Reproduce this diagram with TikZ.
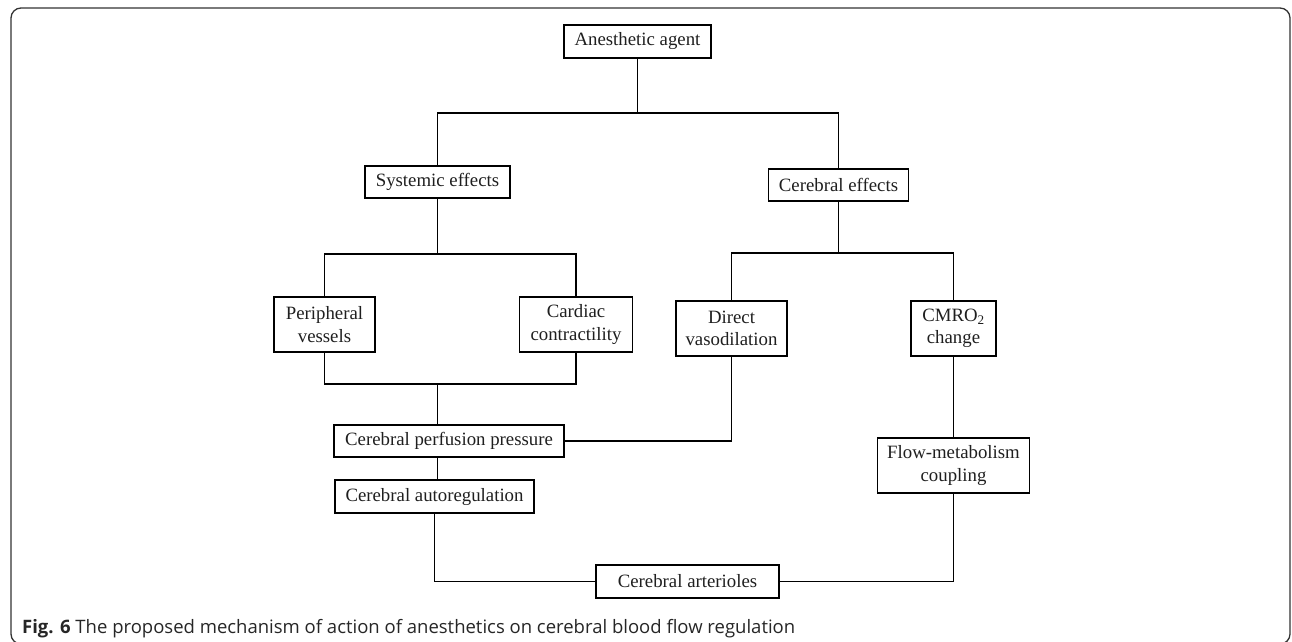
\documentclass[tikz,border=0pt]{standalone}
\usepackage{fontspec}
\setmainfont{Liberation Serif}
\newfontfamily\capfont{Open Sans}
\begin{document}
\begin{tikzpicture}[x=1pt,y=-1pt,
  box/.style={draw=black, line width=1.5pt, inner sep=0pt, align=center,
    font=\fontsize{18.8}{22.5}\selectfont, text=black!88},
  conn/.style={draw=black, line width=1.6pt},
  frame/.style={draw=black!80, line width=1.3pt, rounded corners=10pt}]
\useasboundingbox (0,0) rectangle (1292,641);
\draw[frame] (11,8) rectangle (1290,644);

\node[box, minimum width=147pt, minimum height=33pt] (agent) at (637.5,41.5) {Anesthetic agent};
\node[box, minimum width=145pt, minimum height=32pt] (sys) at (437.5,182) {Systemic effects};
\node[box, minimum width=140pt, minimum height=32pt] (cer) at (838.5,185) {Cerebral effects};
\node[box, minimum width=101pt, minimum height=55pt] (perV) at (324.5,324.5) {Peripheral\\vessels};
\node[box, minimum width=113pt, minimum height=55pt] (card) at (576,324.5) {Cardiac\\contractility};
\node[box, minimum width=111pt, minimum height=55pt] (direct) at (731.5,328.5) {Direct\\vasodilation};
\node[box, minimum width=85pt, minimum height=55pt] (cmro) at (953.5,328.5) {CMRO\textsubscript{2}\\change};
\node[box, minimum width=230pt, minimum height=32pt] (perf) at (449,441) {Cerebral perfusion pressure};
\node[box, minimum width=199pt, minimum height=33pt] (auto) at (434.5,496.5) {Cerebral autoregulation};
\node[box, minimum width=152pt, minimum height=55pt] (flow) at (953.5,465.5) {Flow-metabolism\\coupling};
\node[box, minimum width=183pt, minimum height=33pt] (arter) at (687.5,581.5) {Cerebral arterioles};

\coordinate (j1) at (637.5,113);
\coordinate (j2) at (437.5,254);
\coordinate (j3) at (437.5,384);
\coordinate (j4) at (838.5,253);

\draw[conn] (agent.south) -- (j1);
\draw[conn] (sys.north) |- (j1) -| (cer.north);
\draw[conn] (sys.south) -- (j2);
\draw[conn] (perV.north) |- (j2) -| (card.north);
\draw[conn] (perV.south) |- (j3) -| (card.south);
\draw[conn] (j3) -- (j3 |- perf.north);
\draw[conn] (cer.south) -- (j4);
\draw[conn] (direct.north) |- (j4) -| (cmro.north);
\draw[conn] (direct.south) |- (perf.east);
\draw[conn] (j3 |- perf.south) -- (j3 |- auto.north);
\draw[conn] (auto.south) |- (arter.west);
\draw[conn] (cmro.south) -- (flow.north);
\draw[conn] (flow.south) |- (arter.east);

\node[anchor=base west, inner sep=0pt, text=black!85, font=\capfont\fontsize{18.5}{22}\selectfont] (cap) at (22,633)
  {\textbf{Fig. 6} The proposed mechanism of action of anesthetics on cerebral blood flow regulation};
\end{tikzpicture}
\end{document}
